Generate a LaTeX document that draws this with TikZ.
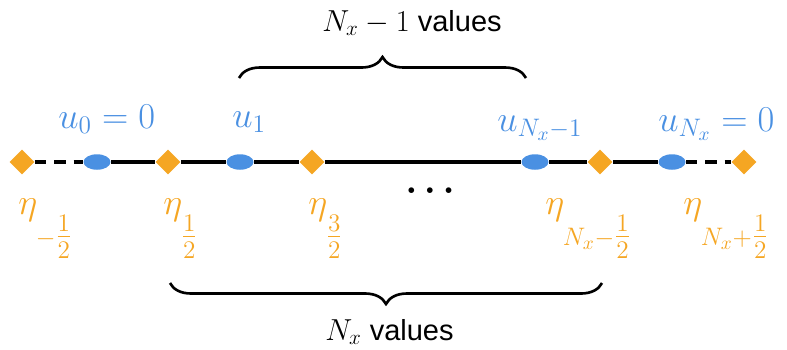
\documentclass[tikz,border=0pt]{standalone}
\usepackage{amsmath}
\usepackage{fontspec}
\setmainfont{Liberation Sans}
\usepackage{tikz}
\usetikzlibrary{shapes.geometric, decorations.pathreplacing, positioning}

\definecolor{ublue}{HTML}{4A90E2}
\definecolor{etaorange}{HTML}{F5A623}
\newcommand{\halfsub}[2]{\raisebox{-15pt}{$\scriptstyle #1\genfrac{}{}{}{1}{#2}{2}$}}

\begin{document}
\begin{tikzpicture}[
    x=0.02cm, y=-0.02cm,
    edge/.style={diamond, fill=etaorange, inner sep=0pt, minimum size=0.5cm},
    cell/.style={ellipse, fill=ublue, inner sep=0pt, minimum width=0.54cm, minimum height=0.31cm},
    grid/.style={line width=2pt},
    ghost/.style={grid, dash pattern=on 6.5pt off 4.5pt},
    ulabel/.style={text=ublue, font=\fontsize{22}{26}\selectfont, inner sep=0pt, anchor=base west},
    elabel/.style={text=etaorange, font=\fontsize{22}{26}\selectfont, inner sep=0pt, anchor=base west},
    count/.style={font=\fontsize{16.5}{20}\selectfont, inner sep=0pt, anchor=base west},
    curly/.style={decorate, line width=1.5pt, decoration={brace, amplitude=0.42cm}}
  ]
  \useasboundingbox (0,0) rectangle (787,349);

  % grid points
  \node[edge] (e0) at (22,162) {};
  \node[cell] (u0) at (97,162) {};
  \node[edge] (e1) at (168,162) {};
  \node[cell] (u1) at (240,162) {};
  \node[edge] (e2) at (312,162) {};
  \node[cell] (u2) at (535,162) {};
  \node[edge] (e3) at (600,162) {};
  \node[cell] (u3) at (672,162) {};
  \node[edge] (e4) at (744,162) {};

  \draw[ghost] (e0) -- (u0);
  \draw[grid] (u0) -- (e1) -- (u1) -- (e2) -- (u2) -- (e3) -- (u3);
  \draw[ghost] (u3) -- (e4);

  % values
  \node[ulabel] (l0) at (58,128) {$u_0 = 0$};
  \node[ulabel] (l1) at (232,127) {$u_1$};
  \node[ulabel] (l2) at (497,131) {$u_{N_x-1}$};
  \node[ulabel] (l3) at (658,131) {$u_{N_x} = 0$};

  % half points
  \node[elabel] (h0) at (18,214) {$\eta_{\halfsub{-}{1}}$};
  \node[elabel] (h1) at (163,214) {$\eta_{\halfsub{}{1}}$};
  \node[elabel] (h2) at (308,214) {$\eta_{\halfsub{}{3}}$};
  \node[elabel] (h3) at (545,214) {$\eta_{\halfsub{N_x-}{1}}$};
  \node[elabel] (h4) at (683,214) {$\eta_{\halfsub{N_x+}{1}}$};

  \node[inner sep=0pt, anchor=base, font=\fontsize{21}{25}\selectfont\boldmath] (dots) at (430,193) {$\ldots$};

  % braces
  \coordinate (tl) at (239,78);
  \coordinate (tr) at (526,78);
  \draw[curly] (tl) -- (tr);
  \node[count] (ntop) at (322,31) {$N_x - 1$ values};

  \coordinate (bl) at (170,283);
  \coordinate (br) at (602,283);
  \draw[curly] (br) -- (bl);
  \node[count] (nbot) at (325,340) {$N_x$ values};
\end{tikzpicture}
\end{document}
